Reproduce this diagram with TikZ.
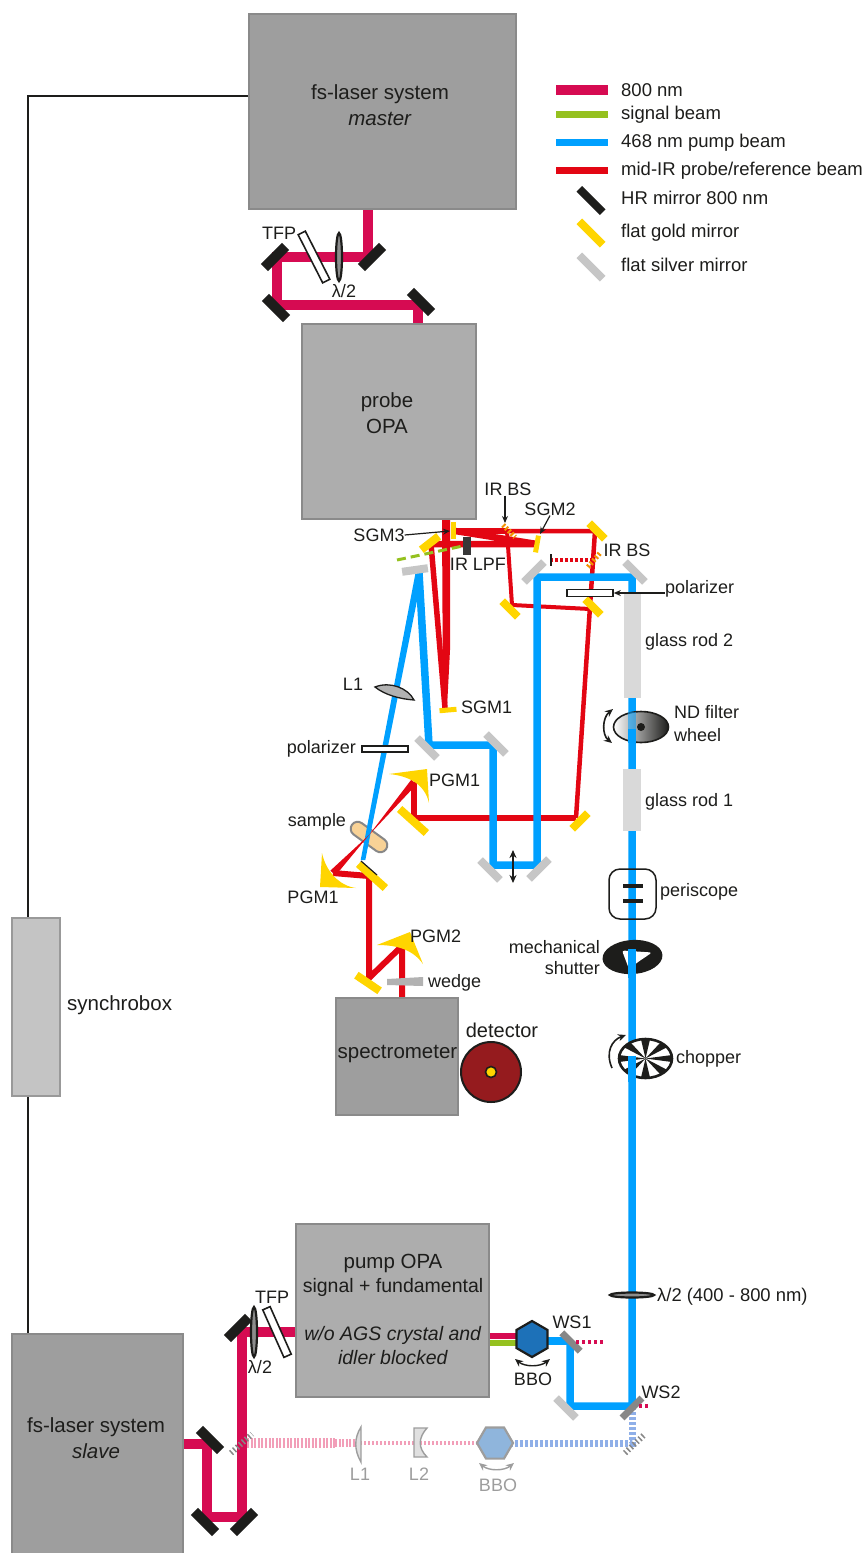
\documentclass[tikz,border=0pt]{standalone}
\usepackage{fontspec}
\setmainfont{Liberation Sans}
\usetikzlibrary{arrows.meta,calc,backgrounds,shapes.geometric,shapes.misc}
\definecolor{fsred}{HTML}{D60B52}
\definecolor{siggreen}{HTML}{95C11F}
\definecolor{pumpblue}{HTML}{00A0FF}
\definecolor{irred}{HTML}{E30613}
\definecolor{mgold}{HTML}{FFD500}
\definecolor{msilver}{HTML}{C6C6C6}
\definecolor{inkblack}{HTML}{1D1D1B}
\definecolor{bsorange}{HTML}{F39200}
\definecolor{wsgray}{HTML}{878787}
\definecolor{ghostpink}{HTML}{F29EB8}
\definecolor{ghostblue}{HTML}{8FAFE8}
\definecolor{ghosttext}{HTML}{9D9D9D}
\definecolor{bbocol}{HTML}{1D71B8}
\definecolor{bboghost}{HTML}{8FB5DC}
\definecolor{samplecol}{HTML}{F8D296}
\definecolor{detcol}{HTML}{951B1E}
\tikzset{
  >={Stealth[length=7pt,width=6pt]},
  % boxes
  darkbox/.style={rectangle,draw=black!46,fill=black!38,line width=2pt,inner sep=0pt},
  midbox/.style={rectangle,draw=black!46,fill=black!32,line width=2pt,inner sep=0pt},
  syncbox/.style={rectangle,draw=black!40,fill=black!23,line width=2pt,inner sep=0pt},
  % text
  lb/.style={inner sep=0pt,text=inkblack,font=\fontsize{18}{21}\selectfont},
  lbd/.style={lb,text height=13pt,text depth=4pt},
  lbgrey/.style={lb,text=ghosttext},
  lbleg/.style={lb,anchor=west,text height=13pt,text depth=4pt,font=\fontsize{18.5}{21}\selectfont},
  lbbig/.style={lb,align=center,font=\fontsize{20.5}{26}\selectfont},
  % mirrors
  hrm/.style={rectangle,fill=inkblack,minimum width=30pt,minimum height=10pt,inner sep=0pt},
  goldm/.style={rectangle,fill=mgold,minimum width=#1,minimum height=8pt,inner sep=0pt},
  goldm/.default=22pt,
  silverm/.style={rectangle,fill=msilver,minimum width=28pt,minimum height=8pt,inner sep=0pt},
  wsm/.style={rectangle,fill=wsgray,minimum width=26pt,minimum height=7pt,inner sep=0pt},
  bsm/.style={draw=bsorange,line width=5pt,dash pattern=on 2pt off 2pt},
  ghostm/.style={draw=wsgray,line width=6pt,dash pattern=on 1.5pt off 2.5pt},
  % beams
  fsb/.style={draw=fsred,line width=10pt},
  pumpb/.style={draw=pumpblue,line width=7.5pt},
  irb/.style={draw=irred,line width=#1},
  irb/.default=6.5pt,
  dashfs/.style={draw=fsred,line width=4pt,dash pattern=on 3pt off 3pt},
  % optics
  plate/.style={rectangle,draw=inkblack,fill=white,line width=1.6pt,inner sep=0pt},
  wplate/.style={ellipse,draw=inkblack,fill=black!45,line width=2.2pt,inner sep=0pt},
  hexa/.style={regular polygon,regular polygon sides=6,minimum size=36pt,inner sep=0pt,line width=2.2pt},
  ann/.style={->,draw=inkblack,line width=1.2pt},
  swing/.style={{Stealth[length=8pt,width=7pt]}-{Stealth[length=8pt,width=7pt]},draw=inkblack,line width=1.6pt},
  swatch/.style={rectangle,minimum width=52pt,inner sep=0pt},
}
\begin{document}
\begin{tikzpicture}[x=1pt,y=-1pt]
  \useasboundingbox (0,0) rectangle (867,1553);
  % boxes
  \node[darkbox,minimum width=267pt,minimum height=195pt] (master) at (382.5,111.5) {};
  \node[midbox,minimum width=174pt,minimum height=195pt] (probe) at (389,421.5) {};
  \node[syncbox,minimum width=48pt,minimum height=178pt] (synchro) at (36,1007) {};
  \node[darkbox,minimum width=122pt,minimum height=117pt] (spectro) at (397,1056.5) {};
  \node[midbox,minimum width=193pt,minimum height=173pt] (pumpopa) at (392.5,1310.5) {};
  \node[darkbox,minimum width=171pt,minimum height=224pt] (slave) at (97.5,1446) {};
  \node[lbbig] (mastertxt) at (380,105) {fs-laser system\\\textit{master}};
  \node[lbbig] (probetxt) at (387,413) {probe\\OPA};
  \node[lbbig] (spectrotxt) at (397.5,1054) {spectrometer};
  \node[lbbig,font=\fontsize{19.5}{24}\selectfont] (pumptxt) at (393,1309)
    {\fontsize{20.5}{24}\selectfont pump OPA\\signal + fundamental\\[24pt]\textit{w/o AGS crystal and}\\\textit{idler blocked}};
  \node[lbbig] (slavetxt) at (96,1438) {fs-laser system\\\textit{slave}};
  \node[lbbig,anchor=west] (synchrotxt) at (67,1005) {synchrobox};
  % trigger line
  \coordinate (syc) at (28,96);
  \draw[draw=inkblack,line width=1.6pt] (syc -| master.west) -- (syc) -- (syc |- synchro.north);
  \draw[draw=inkblack,line width=1.6pt] (syc |- synchro.south) -- (syc |- slave.north);
  % legend
  \node[swatch,fill=fsred,minimum height=10pt] (leg1) at (581.5,89.5) {};
  \node[swatch,fill=siggreen,minimum height=7pt] (leg2) at (581.5,114) {};
  \node[swatch,fill=pumpblue,minimum height=7pt] (leg3) at (581.5,142) {};
  \node[swatch,fill=irred,minimum height=7pt] (leg4) at (581.5,170) {};
  \node[hrm,minimum width=33pt,minimum height=8pt,rotate=-45] (leg5) at (591,200.5) {};
  \node[goldm=33pt,rotate=-45] (leg6) at (591,233) {};
  \node[silverm,minimum width=33pt,rotate=-45] (leg7) at (591,267) {};
  \node[lbleg] (legt1) at (621,91.5) {800 nm};
  \node[lbleg] (legt2) at (621,114.8) {signal beam};
  \node[lbleg] (legt3) at (621,142.8) {468 nm pump beam};
  \node[lbleg] (legt4) at (621,170.8) {mid-IR probe/reference beam};
  \node[lbleg] (legt5) at (621,200.2) {HR mirror 800 nm};
  \node[lbleg] (legt6) at (621,233.2) {flat gold mirror};
  \node[lbleg] (legt7) at (621,267.2) {flat silver mirror};
  % master 800 nm line
  \coordinate (fa) at (368,257);
  \coordinate (fb) at (277,257);
  \coordinate (fc) at (277,305);
  \coordinate (fd) at (418,305);
  \node[hrm,rotate=45] (hr1) at (372,257) {};
  \node[hrm,rotate=45] (hr2) at (275,257) {};
  \node[hrm,rotate=-45] (hr3) at (276,308) {};
  \node[hrm,rotate=-45] (hr4) at (421,302) {};
  \node[plate,minimum width=54pt,minimum height=8pt,rotate=-63] (tfpm) at (314,257) {};
  \node[wplate,minimum width=6pt,minimum height=48pt] (lamm) at (339,257) {};
  \node[lb] (tfpmt) at (279,233) {TFP};
  \node[lb] (lammt) at (344,291) {λ/2};
  % slave 800 nm line
  \coordinate (sa) at (207,1444);
  \coordinate (sb) at (207,1517);
  \coordinate (sc) at (242,1517);
  \coordinate (sd) at (242,1332);
  \node[hrm,rotate=-45] (hr5) at (210,1440) {};
  \node[hrm,rotate=-45] (hr6) at (205,1522) {};
  \node[hrm,rotate=45] (hr7) at (244,1522) {};
  \node[hrm,rotate=45] (hr8) at (238,1328) {};
  \node[plate,minimum width=52pt,minimum height=8pt,rotate=-66] (tfps) at (277,1332) {};
  \node[wplate,minimum width=6pt,minimum height=50pt] (lams) at (254,1332) {};
  \node[lb] (tfpst) at (272,1297) {TFP};
  \node[lb] (lamst) at (260,1367) {λ/2};
  % flat mirrors of the probe side
  \node[goldm,rotate=38] (gm1) at (430,543) {};
  \node[goldm,rotate=-45] (gm2) at (597,531) {};
  \node[goldm,rotate=-45] (gm3) at (510,609) {};
  \node[goldm,rotate=-45] (gm4) at (593,607) {};
  \node[goldm,rotate=45] (gm5) at (580,821) {};
  \node[goldm=36pt,rotate=-42] (gm6) at (413,821) {};
  \node[goldm=36pt,rotate=-42] (gm7) at (372,876) {};
  \node[goldm=28pt,rotate=-34] (gm8) at (368,983) {};
  \node[goldm=17pt,minimum height=5pt,rotate=5] (sgm1) at (448,710) {};
  \node[goldm=17pt,minimum height=5pt,rotate=90] (sgm3) at (453,530) {};
  \node[goldm=17pt,minimum height=5pt,rotate=80] (sgm2) at (537,544) {};
  \coordinate (bs1a) at (503,525);
  \coordinate (bs1b) at (515,537);
  \coordinate (bs2a) at (588,567);
  \coordinate (bs2b) at (600,553);
  \draw[bsm] (bs1a) -- (bs1b);
  \draw[bsm] (bs2a) -- (bs2b);
  \node[rectangle,fill=inkblack,minimum width=2.5pt,minimum height=12pt,inner sep=0pt] (dump) at (551,560) {};
  \node[rectangle,fill=black!78,minimum width=8pt,minimum height=18pt,inner sep=0pt] (lpf) at (467,546) {};
  % parabolic mirrors
  \fill[mgold] (389,774) -- (427,769) -- (429,803) .. controls (425,785) and (410,776) .. cycle;
  \fill[mgold] (322,853) -- (320,887) -- (356,888) .. controls (340,886) and (326,872) .. cycle;
  \fill[mgold] (377,945) -- (410,932) -- (423,964) .. controls (413,950) and (398,945) .. cycle;
  \coordinate (pa) at (414,782);
  \coordinate (focus) at (369,835);
  \coordinate (pb) at (333,873);
  \coordinate (pc) at (402,946);
  % silver mirrors of the pump side
  \node[silverm,rotate=8,minimum width=26pt] (sm1) at (415,570) {};
  \node[silverm,rotate=45] (sm2) at (534,572) {};
  \node[silverm,rotate=-45] (sm3) at (635,572) {};
  \node[silverm,rotate=-45] (sm4) at (427,748) {};
  \node[silverm,rotate=-45] (sm5) at (496,744) {};
  \node[silverm,rotate=-45] (sm6) at (490,870) {};
  \node[silverm,rotate=45] (sm7) at (539,869) {};
  \node[silverm,rotate=-45] (sm8) at (566,1408) {};
  \node[wsm,rotate=-45] (ws1) at (571,1342) {};
  \node[wsm,minimum width=28pt,rotate=45] (ws2) at (632,1408) {};
  % corners of the beams
  \coordinate (pu1) at (570,1341);
  \coordinate (pu2) at (570,1406);
  \coordinate (pu3) at (632,1406);
  \coordinate (pu4) at (632,577);
  \coordinate (pu5) at (537,577);
  \coordinate (pu6) at (537,865);
  \coordinate (pu7) at (493,865);
  \coordinate (pu8) at (493,745);
  \coordinate (pu9) at (429,745);
  \coordinate (pu10) at (419,573);
  \coordinate (pu11) at (363,860);
  \coordinate (ir1) at (446,520);
  \coordinate (ir2) at (445,708);
  \coordinate (ir3) at (431,544);
  \coordinate (ir4) at (455,531);
  \coordinate (ir5) at (595,531);
  \coordinate (ir6) at (507,531);
  \coordinate (ir7) at (512,605);
  \coordinate (ir8) at (590,609);
  \coordinate (ir9) at (576,818);
  \coordinate (ir10) at (414,818);
  \coordinate (ir11) at (369,876);
  \coordinate (ir12) at (369,978);
  \coordinate (ir13) at (402,997);
  \coordinate (ir14) at (593,560);
  % sample and beams
  \begin{scope}[on background layer]
  \node[rounded rectangle,draw=wsgray,fill=samplecol,line width=2pt,minimum width=42pt,minimum height=14pt,inner sep=0pt,rotate=-36] (sample) at (369,837) {};
  \draw[fsb] (fa |- master.south) -- (fa) -- (fb) -- (fc) -- (fd) -- (fd |- probe.north);
  \draw[fsb] (sa -| slave.east) -- (sa) -- (sb) -- (sc) -- (sd) -- (sd -| pumpopa.west);
  \fill[irred] ($(ir1)+(-4,0)$) -- ($(ir1)+(4,0)$) -- (450,650) -- ($(ir2)+(2,0)$) -- ($(ir2)+(-2,0)$) -- cycle;
  \draw[irb=5.5pt] (ir3) -- (ir2);
  \draw[irb] (ir4) -- (ir6);
  \draw[irb=4.5pt] (ir6) -- (ir5) -- (ir9);
  \draw[irb] (ir4) -- (sgm2.center) -- (ir3);
  \draw[irb=4pt] (ir6) -- (ir7) -- (ir8);
  \draw[irb=6.5pt] (ir9) -- (ir10) -- (pa);
  \draw[irb=6pt] (pb) -- (ir11) -- (ir12) -- (pc) -- (ir13);
  \draw[dashfs,draw=irred,dash pattern=on 3pt off 2pt] (ir14) -- (dump.east);
  \draw[draw=siggreen,line width=3pt,dash pattern=on 9pt off 5pt] (397,560) -- (lpf.west);
  \draw[pumpb] (pu1) -- (pu2) -- (pu3) -- (pu4) -- (pu5) -- (pu6) -- (pu7) -- (pu8) -- (pu9) -- (pu10);
  \fill[pumpblue] ($(pu10)+(-3.5,0)$) -- ($(pu10)+(3.5,0)$) -- ($(pu11)+(2.3,0)$) -- ($(pu11)+(-2.3,0)$) -- cycle;
  \fill[irred] ($(pa)+(2.7,2.3)$) -- ($(pa)+(-2.7,-2.3)$) -- (focus) -- ($(pb)+(-2.7,-2.3)$) -- ($(pb)+(2.7,2.3)$) -- (focus) -- cycle;
  \end{scope}
  \draw[draw=inkblack,line width=1.2pt] (361,861) -- (377,875);
  % pump OPA output
  \node[hexa,draw=inkblack,fill=bbocol,rotate=90] (bbo) at (532,1339) {};
  \begin{scope}[on background layer]
  \draw[draw=fsred,line width=6.5pt] (pumpopa.east |- bbo) ++(0,-3) -- ++(30,0);
  \draw[draw=siggreen,line width=6pt] (pumpopa.east |- bbo) ++(0,3.5) -- ++(30,0);
  \draw[pumpb] (bbo.center |- pu1) -- (pu1);
  \end{scope}
  \draw[dashfs] (576,1342) -- (603,1342);
  \draw[dashfs] (639,1406) -- (650,1406);
  % side line, blocked
  \node[hexa,draw=ghosttext,fill=bboghost,minimum size=36pt] (bbog) at (495,1443) {};
  \coordinate (gmid) at (632,1443);
  \begin{scope}[on background layer]
  \draw[draw=ghostpink,line width=9.5pt,dash pattern=on 2pt off 1.6pt] (247,1443) -- (335,1443);
  \draw[draw=ghostpink,line width=8pt,dash pattern=on 2pt off 1.6pt] (335,1443) -- (356,1443);
  \draw[draw=ghostpink,line width=4.5pt,dash pattern=on 2pt off 2pt] (356,1443) -- (bbog.center);
  \draw[draw=ghostblue,line width=7pt,dash pattern=on 3pt off 2pt] (bbog.center) -- (gmid) -- (ws2.center);
  \end{scope}
  \coordinate (gm1a) at (231,1453);
  \coordinate (gm1b) at (252,1434);
  \coordinate (gm2a) at (625,1453);
  \coordinate (gm2b) at (645,1434);
  \draw[ghostm] (gm1a) -- (gm1b);
  \draw[ghostm] (gm2a) -- (gm2b);
  \filldraw[draw=ghosttext,fill=black!12,line width=1.4pt] (361,1427) .. controls (354,1438) and (354,1450) .. (361,1462) -- cycle;
  \filldraw[draw=ghosttext,fill=black!12,line width=1.4pt] (414,1428) -- (427,1428) .. controls (418,1438) and (418,1448) .. (427,1457) -- (414,1457) -- cycle;
  \node[lbgrey] (l1gt) at (360,1474) {L1};
  \node[lbgrey] (l2gt) at (419,1474) {L2};
  \node[lbgrey] (bbogt) at (498,1485) {BBO};
  \node[lb] (bbot) at (533,1379) {BBO};
  \draw[swing,line width=1.4pt] (515,1359) .. controls (525,1367) and (540,1367) .. (550,1359);
  \draw[swing,line width=1.4pt,draw=ghosttext,color=ghosttext] (479,1463) .. controls (489,1471) and (504,1471) .. (514,1463);
  \node[lb] (ws1t) at (572,1322) {WS1};
  \node[lb] (ws2t) at (661,1392) {WS2};
  \node[wplate,minimum width=44pt,minimum height=5pt] (lamp) at (632,1295) {};
  \node[lb,anchor=west,font=\fontsize{18.4}{21}\selectfont] (lampt) at (657,1296.5) {λ/2 (400 - 800 nm)};
  % elements on the pump line
  \node[rectangle,fill=black!15,minimum width=17pt,minimum height=106pt,inner sep=0pt] (rod2) at (632,645) {};
  \node[rectangle,fill=black!15,minimum width=18pt,minimum height=62pt,inner sep=0pt] (rod1) at (632,800) {};
  \node[lbd,anchor=west] (rod2t) at (645,642) {glass rod 2};
  \node[lbd,anchor=west] (rod1t) at (645,802) {glass rod 1};
  \node[ellipse,draw=inkblack,line width=1.6pt,left color=white,right color=inkblack,minimum width=55pt,minimum height=31pt,inner sep=0pt] (ndw) at (641,727) {};
  \draw[pumpb,opacity=.55] (632,712) -- (632,729);
  \draw[pumpb] (632,729) -- (632,743);
  \node[circle,fill=inkblack,minimum size=8pt,inner sep=0pt] (ndc) at (641,727) {};
  \draw[swing] (613,709) .. controls (602,718) and (602,735) .. (612,743);
  \node[lb,anchor=west,align=left] (ndt) at (674,723.5) {ND filter\\[2pt]wheel};
  \node[rectangle,rounded corners=11pt,draw=inkblack,line width=1.5pt,minimum width=47pt,minimum height=50pt,inner sep=0pt] (peri) at (632.5,894) {};
  \node[rectangle,fill=inkblack,minimum width=20pt,minimum height=4pt,inner sep=0pt] (peria) at (633,886) {};
  \node[rectangle,fill=inkblack,minimum width=20pt,minimum height=4pt,inner sep=0pt] (perib) at (633,901) {};
  \node[lbd,anchor=west] (perit) at (660,892) {periscope};
  \node[ellipse,fill=inkblack,minimum width=60pt,minimum height=34pt,inner sep=0pt,rotate=4] (shut) at (632.5,957) {};
  \fill[white,rounded corners=2.5pt] (622,950.5) -- (652,952.5) -- (638,962) -- (629,969) -- cycle;
  \draw[pumpb] (632,949) -- (632,978);
  \node[lb,anchor=east,align=right] (shutt) at (600,957.5) {mechanical\\shutter};
  \node[ellipse,draw=inkblack,fill=white,line width=2.6pt,minimum width=53pt,minimum height=39pt,inner sep=0pt] (chop) at (645.5,1058.5) {};
  \foreach \a in {0,45,...,315}
    \fill[inkblack] (chop.center) -- ({645.5+26*cos(\a-10)},{1058.5+19.5*sin(\a-10)}) -- ({645.5+26*cos(\a+10)},{1058.5+19.5*sin(\a+10)}) -- cycle;
  \draw[pumpb] (632,1056) -- (632,1082);
  \draw[swing,{Stealth[length=8pt,width=7pt]}-] (626,1035) .. controls (612,1040) and (605,1052) .. (612,1068);
  \node[lbd,anchor=west] (chopt) at (676,1059) {chopper};
  \node[plate,minimum width=46pt,minimum height=7pt] (polu) at (590,593) {};
  \node[lbd,anchor=west] (polut) at (665,589) {polarizer};
  \draw[ann] (polut.west |- polu) -- (polu.east);
  % elements on the probe line
  \node[plate,minimum width=46pt,minimum height=6pt] (pold) at (385,749) {};
  \node[lbd,anchor=east] (poldt) at (356,749) {polarizer};
  \filldraw[draw=inkblack,fill=black!30,line width=1.3pt] (375,687) .. controls (390,681) and (408,688) .. (414,700) .. controls (400,699) and (385,695) .. cycle;
  \node[lb] (l1t) at (353,684) {L1};
  \fill[black!30] (387,979) -- (423,977) -- (423,986) -- (387,985) -- cycle;
  \node[lbd,anchor=west] (wedget) at (428,983) {wedge};
  \node[lb,anchor=west] (sgm1t) at (461,707) {SGM1};
  \node[lbd] (samplet) at (317,822) {sample};
  \node[lb,anchor=west] (pgm1at) at (429,780) {PGM1};
  \node[lb] (pgm1bt) at (313,897) {PGM1};
  \node[lb,anchor=west] (pgm2t) at (410,936) {PGM2};
  \draw[swing,line width=2pt] (513,850) -- (513,883);
  \node[circle,draw=inkblack,fill=detcol,line width=2pt,minimum size=60pt,inner sep=0pt] (det) at (491,1072) {};
  \node[circle,draw=inkblack,fill=mgold,line width=1.6pt,minimum size=11pt,inner sep=0pt] (detc) at (491,1072) {};
  \node[lbbig,font=\fontsize{20}{24}\selectfont] (dett) at (502,1030) {detector};
  % labels round the beam splitters
  \node[lb] (irbsa) at (508,489) {IR BS};
  \node[lb] (sgm2t) at (550,509) {SGM2};
  \node[lb] (sgm3t) at (379,535) {SGM3};
  \node[lb] (irbsb) at (627,550) {IR BS};
  \node[lb] (lpft) at (478,564) {IR LPF};
  \coordinate (irbsp) at (505,523);
  \coordinate (sgm2p) at (540,534);
  \coordinate (sgm3p) at (450,531);
  \draw[ann] (irbsa.south -| irbsp) -- (irbsp);
  \draw[ann] (sgm2t.south) -- (sgm2p);
  \draw[ann] (sgm3t.east) -- (sgm3p);
\end{tikzpicture}
\end{document}
